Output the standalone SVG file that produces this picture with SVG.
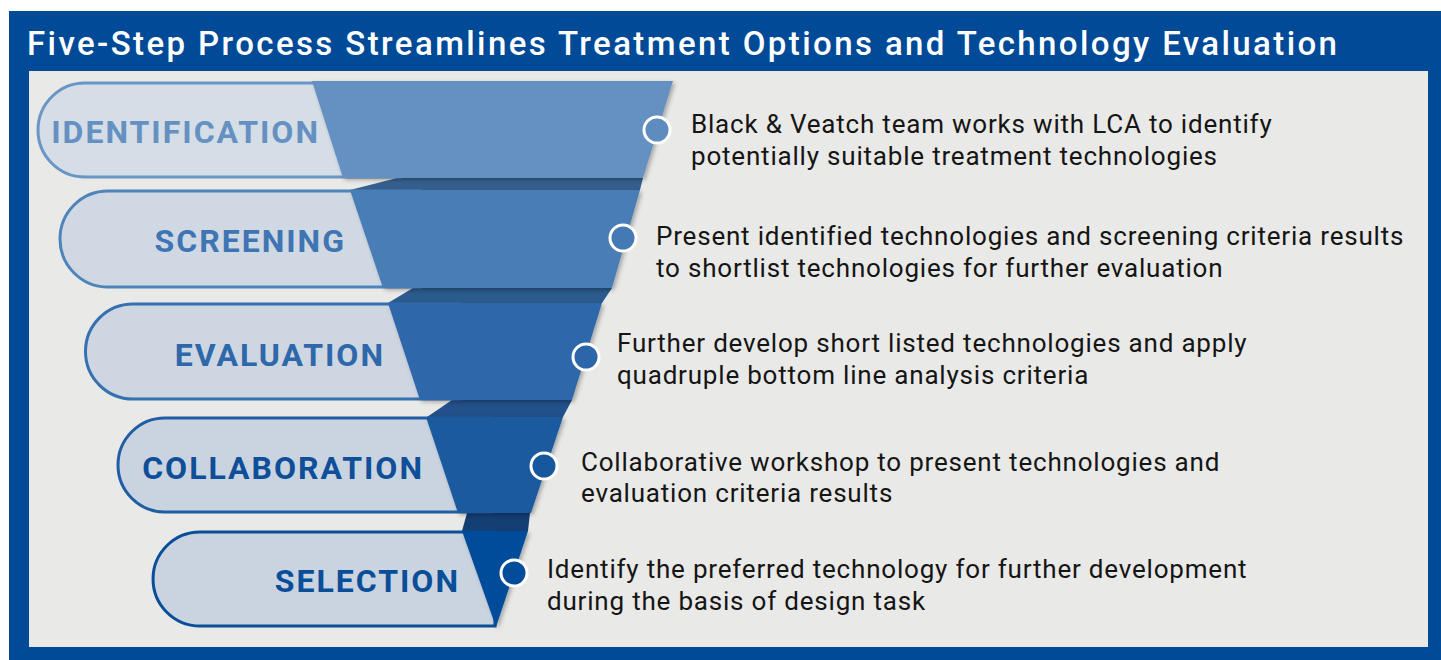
<svg xmlns="http://www.w3.org/2000/svg" width="1441" height="660" viewBox="0 0 1441 660">
<defs>
<style>
.title{font-family:Roboto,"Liberation Sans",sans-serif;font-size:33px;fill:#fff;font-weight:500;letter-spacing:2.4px}
.lbl{font-family:Roboto,"Liberation Sans",sans-serif;font-size:32px;font-weight:700;letter-spacing:2px;text-anchor:end}
.desc{font-family:Roboto,"Liberation Sans",sans-serif;font-size:26px;fill:#151515;letter-spacing:0.8px}
.pill{stroke-width:3}
.dot{stroke:#fff;stroke-width:3}
</style>
<filter id="sh" x="-10%" y="-10%" width="130%" height="130%">
<feDropShadow dx="2" dy="2" stdDeviation="2" flood-color="#000" flood-opacity="0.3"/>
</filter>
</defs>
<rect x="9" y="11" width="1432" height="649" fill="#004a98"/>
<rect x="29" y="71" width="1399" height="576" fill="#e9e9e7"/>
<text class="title" x="27" y="55">Five-Step Process Streamlines Treatment Options and Technology Evaluation</text>

<g id="connectors">
<polygon points="397,178 643,178 640,190 350,190" fill="#35608e"/>
<polygon points="413,288 612,288 602,303 388,303" fill="#2b5a8d"/>
<polygon points="452,400 572,400 563,417 427,417" fill="#21508a"/>
<polygon points="467,513 530,513 528,531 462,531" fill="#143f73"/>
</g>

<g id="step1">
<path class="pill" d="M85,83 H400 V177 H85 A47,47 0 0 1 85,83 Z" fill="#d5dde6" stroke="#6a96c6"/>
<polygon points="312,81 673,81 643,178 343,178" fill="#6591c2" filter="url(#sh)"/>
<text class="lbl" x="320" y="143" fill="#6591c2">IDENTIFICATION</text>
<circle class="dot" cx="657" cy="130" r="13" fill="#5f8cbf"/>
<text class="desc" x="691" y="133">Black &amp; Veatch team works with LCA to identify</text>
<text class="desc" x="691" y="165">potentially suitable treatment technologies</text>
</g>

<g id="step2">
<path class="pill" d="M108,191 H420 V287 H108 A48,48 0 0 1 108,191 Z" fill="#d0d9e3" stroke="#4f84bb"/>
<polygon points="350,190 640,190 612,288 383,288" fill="#487db6" filter="url(#sh)"/>
<text class="lbl" x="346" y="252" fill="#3f75b3">SCREENING</text>
<circle class="dot" cx="623" cy="238" r="13" fill="#447ab4"/>
<text class="desc" x="656" y="245">Present identified technologies and screening criteria results</text>
<text class="desc" x="656" y="277">to shortlist technologies for further evaluation</text>
</g>

<g id="step3">
<path class="pill" d="M133,304 H460 V399 H133 A47.5,47.5 0 0 1 133,304 Z" fill="#cdd6e1" stroke="#3570b0"/>
<polygon points="388,303 602,303 572,400 420,400" fill="#2e67aa" filter="url(#sh)"/>
<text class="lbl" x="385" y="366" fill="#2e67aa">EVALUATION</text>
<circle class="dot" cx="586" cy="357" r="13" fill="#2c66a9"/>
<text class="desc" x="617" y="352">Further develop short listed technologies and apply</text>
<text class="desc" x="617" y="384">quadruple bottom line analysis criteria</text>
</g>

<g id="step4">
<path class="pill" d="M165,418 H490 V512 H165 A47,47 0 0 1 165,418 Z" fill="#cad4e0" stroke="#1f5ea4"/>
<polygon points="426,417 563,417 531,513 458,513" fill="#1a5aa0" filter="url(#sh)"/>
<text class="lbl" x="424" y="479" fill="#0f4e98">COLLABORATION</text>
<circle class="dot" cx="544" cy="466" r="13" fill="#17579e"/>
<text class="desc" x="581" y="471">Collaborative workshop to present technologies and</text>
<text class="desc" x="581" y="502">evaluation criteria results</text>
</g>

<g id="step5">
<path class="pill" d="M200,532 H495 V626 H200 A47,47 0 0 1 200,532 Z" fill="#c9d4e0" stroke="#0a4e9a"/>
<polygon points="462,531 528,531 496,627" fill="#034c9a" filter="url(#sh)"/>
<text class="lbl" x="460" y="592" fill="#0a4e9a">SELECTION</text>
<circle class="dot" cx="514" cy="573" r="13" fill="#034c9a"/>
<text class="desc" x="547" y="578">Identify the preferred technology for further development</text>
<text class="desc" x="547" y="610">during the basis of design task</text>
</g>
</svg>
